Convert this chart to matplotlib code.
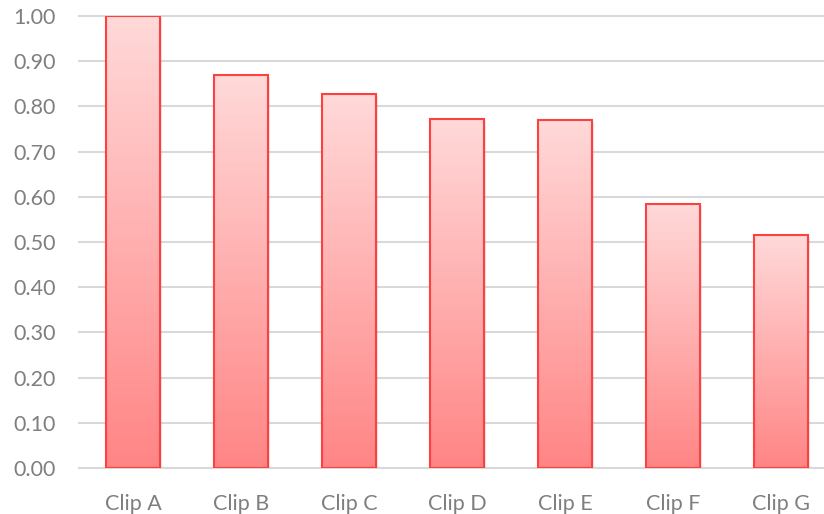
import numpy as np
import matplotlib
matplotlib.use("Agg")
import matplotlib.pyplot as plt
from matplotlib.colors import LinearSegmentedColormap
from matplotlib.patches import Rectangle

categories = ["Clip A", "Clip B", "Clip C", "Clip D", "Clip E", "Clip F", "Clip G"]
values = [1.00, 0.87, 0.827, 0.772, 0.770, 0.584, 0.516]
y_ticks = [0.0, 0.1, 0.2, 0.3, 0.4, 0.5, 0.6, 0.7, 0.8, 0.9, 1.0]

W, H = 824, 514
fig = plt.figure(figsize=(W / 100, H / 100), dpi=100)
# plot area: left at x=79, one category = 108 px, bottom at y=468, top at y=16
left, cat_w = 79, 108
ax = fig.add_axes([left / W, (H - 468) / H, 7 * cat_w / W, (468 - 16) / H])

ax.set_xlim(-0.5, 6.5)
ax.set_ylim(0, 1.0)
for s in ax.spines.values():
    s.set_visible(False)

ax.set_yticks(y_ticks)
ax.set_yticklabels([f"{v:.2f}" for v in y_ticks])
ax.set_xticks(range(len(categories)))
ax.set_xticklabels(categories)
ax.tick_params(axis="both", length=0, labelsize=15.5, labelcolor="#7f7f7f")
ax.tick_params(axis="y", pad=16.5)
ax.tick_params(axis="x", pad=19)
for lab in ax.get_xticklabels() + ax.get_yticklabels():
    lab.set_fontfamily("Lato")

ax.yaxis.grid(True, color="#d9d9d9", linewidth=1.5, clip_on=False)
ax.set_axisbelow(True)

cmap = LinearSegmentedColormap.from_list("redfade", ["#ff8585", "#ffd9d9"])
grad = np.linspace(0, 1, 256).reshape(-1, 1)
bar_w = 0.5

for i, v in enumerate(values):
    x0 = i - bar_w / 2
    # soft shadow
    shadow = Rectangle((x0 + 0.02, 0), bar_w, v - 0.004, facecolor="#000000",
                       alpha=0.08, edgecolor="none", zorder=2)
    ax.add_patch(shadow)
    im = ax.imshow(grad, extent=(x0, x0 + bar_w, 0, v), origin="lower",
                   cmap=cmap, aspect="auto", zorder=3)
    rect = Rectangle((x0, 0), bar_w, v, facecolor="none", edgecolor="#ff4040",
                     linewidth=1.5, zorder=4)
    ax.add_patch(rect)
    im.set_clip_path(rect)

ax.set_xlim(-0.5, 6.5)
ax.set_ylim(0, 1.0)

fig.savefig("out.png", dpi=100)
